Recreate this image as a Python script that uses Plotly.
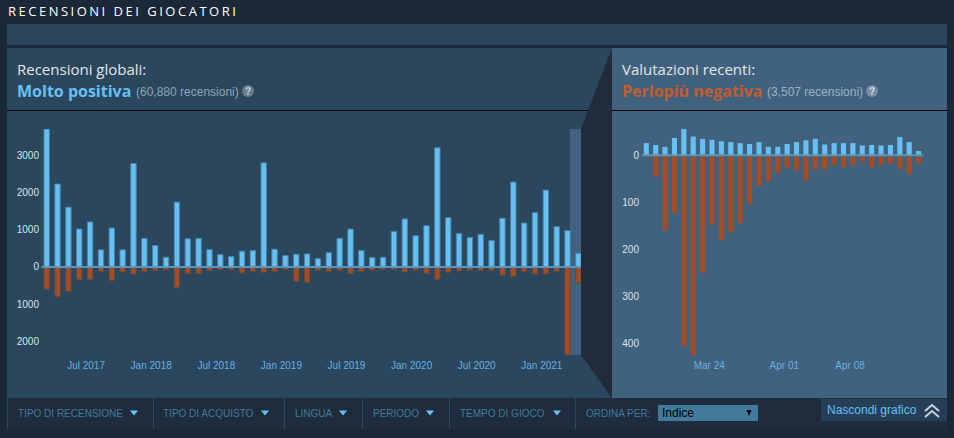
import plotly.graph_objects as go

# monthly totals, Mar 2017 - Apr 2021
global_up = [3700, 2225, 1604, 1018, 1207, 460, 1045, 460, 2775, 766, 577, 261, 1739, 757, 766, 468, 333,
             279, 423, 441, 2793, 477, 306, 342, 351, 225, 387, 766, 1018, 441, 252, 261, 955, 1288, 838,
             1108, 3198, 1324, 900, 793, 874, 712, 1306, 2279, 1180, 1459, 2063, 1081, 973, 369]
global_down = [595, 800, 658, 342, 333, 126, 360, 135, 189, 117, 90, 72, 559, 180, 180, 99, 72,
               72, 162, 126, 144, 117, 63, 387, 414, 90, 117, 90, 180, 117, 81, 63, 63, 135, 81,
               171, 333, 144, 108, 90, 90, 90, 225, 252, 126, 189, 189, 117, 2360, 432]
global_ticks = [4, 10, 16, 22, 28, 34, 40, 46]
global_ticktext = ['Jul 2017', 'Jan 2018', 'Jul 2018', 'Jan 2019', 'Jul 2019', 'Jan 2020', 'Jul 2020', 'Jan 2021']
global_yticks = [3000, 2000, 1000, 0, -1000, -2000]

# daily totals, Mar 17 - Apr 15
recent_up = [26, 22, 18, 37, 56, 40, 35, 33, 30, 28, 26, 24, 28, 18, 18,
             24, 28, 32, 35, 23, 26, 26, 26, 21, 22, 21, 22, 39, 28, 9]
recent_down = [3, 45, 160, 123, 406, 425, 250, 148, 180, 164, 144, 104, 66, 55, 38,
               26, 32, 54, 30, 30, 21, 26, 21, 13, 26, 21, 18, 29, 41, 18]
recent_ticks = [7, 15, 22]
recent_ticktext = ['Mar 24', 'Apr 01', 'Apr 08']
recent_yticks = [0, -100, -200, -300, -400]

W, H = 954, 438
BLUE = '#66c0f4'
RED = '#a34c25'


def px(x):
    return x / W


def py(y):
    return 1 - y / H


def rect(x0, y0, x1, y1, color):
    return dict(type='rect', xref='paper', yref='paper', x0=px(x0), x1=px(x1), y0=py(y0), y1=py(y1),
                fillcolor=color, line_width=0, layer='below')


def poly(points, color, line=None):
    path = 'M ' + ' L '.join('{} {}'.format(px(a), py(b)) for a, b in points)
    if line:
        return dict(type='path', xref='paper', yref='paper', path=path, line=dict(color=color, width=line), layer='above')
    return dict(type='path', xref='paper', yref='paper', path=path + ' Z', fillcolor=color, line_width=0, layer='above')


def label(x, y, text, size=10, color='#417a9b', font='Liberation Sans', bold=False, anchor='left'):
    return dict(xref='paper', yref='paper', x=px(x), y=py(y), text='<b>' + text + '</b>' if bold else text,
                showarrow=False, xanchor=anchor, yanchor='middle', borderpad=0, borderwidth=0,
                font=dict(size=size, color=color, family=font))


def tri(cx, cy=413):
    return poly([(cx - 4, cy - 2.5), (cx + 4, cy - 2.5), (cx, cy + 2.5)], BLUE)


fig = go.Figure()
fig.add_trace(go.Bar(x=list(range(len(global_up))), y=global_up, width=0.5, xaxis='x', yaxis='y',
                     marker=dict(color=BLUE, line=dict(color='#4582a8', width=1))))
fig.add_trace(go.Bar(x=list(range(len(global_down))), y=[-v for v in global_down], width=0.5, xaxis='x', yaxis='y',
                     marker=dict(color=RED, line=dict(color='#5e4a42', width=1))))
fig.add_trace(go.Bar(x=list(range(len(recent_up))), y=recent_up, width=0.54, xaxis='x2', yaxis='y2',
                     marker=dict(color=BLUE, line_width=0)))
fig.add_trace(go.Bar(x=list(range(len(recent_down))), y=[-v for v in recent_down], width=0.54, xaxis='x2', yaxis='y2',
                     marker=dict(color=RED, line_width=0)))

shapes = [
    rect(7, 24, 947, 45, '#2a475e'),
    rect(7, 48, 612, 398, '#2a475e'),
    rect(612, 48, 947, 398, '#41627e'),
    rect(7, 398, 947, 429, '#1e2c3e'),
    rect(7, 110, 612, 111, '#000000'),
    rect(612, 110, 947, 111, '#000000'),
    rect(570, 129, 581, 355, '#41627e'),
    poly([(612, 48), (581, 129), (581, 355), (612, 398)], '#202c3c'),
    dict(type='line', xref='x', yref='y', x0=-0.5, x1=len(global_up) - 0.5, y0=0, y1=0,
         line=dict(color='#5797bf', width=2), layer='above'),
    dict(type='line', xref='x2', yref='y2', x0=-0.5, x1=len(recent_up) - 0.5, y0=0, y1=0,
         line=dict(color='#5797bf', width=2), layer='above'),
    rect(658, 405, 758, 421, '#417a9b'),
    rect(821, 399, 947, 421, '#273f56'),
    poly([(746.5, 410), (751.5, 410), (749, 416)], '#000000'),
    poly([(925, 411), (932, 405), (939, 411)], '#c6d4df', line=2),
    poly([(925, 417), (932, 411), (939, 417)], '#c6d4df', line=2),
    dict(type='circle', xref='paper', yref='paper', x0=px(242), x1=px(254), y0=py(97), y1=py(85),
         fillcolor='#677d90', line_width=0, layer='above'),
    dict(type='circle', xref='paper', yref='paper', x0=px(866), x1=px(878), y0=py(97), y1=py(85),
         fillcolor='#768da2', line_width=0, layer='above'),
]
for sep in [7, 153, 284, 362, 449, 575]:
    shapes.append(rect(sep, 398, sep + 1, 429, '#2a475e'))
for cx in [134, 265, 343, 430, 557]:
    shapes.append(tri(cx))

annotations = [
    label(123, 11, 'RECENSIONI DEI GIOCATORI', 13, '#ffffff', 'Open Sans', anchor='center'),
    label(17, 69, 'Recensioni globali:', 15, '#e5e5e5', 'Open Sans'),
    label(17, 91, 'Molto positiva', 16, BLUE, 'Open Sans', True),
    label(136, 92, '(60,880 recensioni)', 12, '#8ba6b6'),
    label(245, 91, '?', 10, '#c6d4df', bold=True),
    label(622, 69, 'Valutazioni recenti:', 15, '#e5e5e5', 'Open Sans'),
    label(622, 91, 'Perlopiù negativa', 16, '#c35c2c', 'Open Sans', True),
    label(767, 92, '(3,507 recensioni)', 12, '#9cb3c4'),
    label(869, 91, '?', 10, '#d5dfe8', bold=True),
    label(17.5, 413, 'TIPO DI RECENSIONE'),
    label(163, 413, 'TIPO DI ACQUISTO'),
    label(295, 413, 'LINGUA'),
    label(373, 413, 'PERIODO'),
    label(460, 413, 'TEMPO DI GIOCO'),
    label(586, 413, 'ORDINA PER:'),
    label(662, 413, 'Indice', 12, '#000000'),
    label(827, 410, 'Nascondi grafico', 12, BLUE),
]

tick_font = dict(size=10, color='#dce3e8', family='Liberation Sans')
x_font = dict(size=10, color='#66b0e0', family='Liberation Sans')

fig.update_layout(
    width=W, height=H, autosize=False, margin=dict(l=0, r=0, t=0, b=0),
    paper_bgcolor='#1b2838', plot_bgcolor='rgba(0,0,0,0)',
    barmode='relative', showlegend=False, shapes=shapes, annotations=annotations,
    xaxis=dict(domain=[px(40), px(581)], range=[-0.617, 49.24], tickvals=[t - 0.37 for t in global_ticks],
               ticktext=global_ticktext, tickfont=x_font, showgrid=False, zeroline=False, ticks='', ticklabelstandoff=3),
    yaxis=dict(domain=[py(355), py(129)], range=[-2360, 3700], tickvals=global_yticks,
               ticktext=[str(abs(v)) for v in global_yticks], tickfont=tick_font,
               showgrid=False, zeroline=False, ticks=''),
    xaxis2=dict(domain=[px(640), px(925)], range=[-0.67, 29.68], anchor='y2', tickvals=[t - 0.3 for t in recent_ticks],
                ticktext=recent_ticktext, tickfont=x_font, showgrid=False, zeroline=False, ticks='', ticklabelstandoff=3),
    yaxis2=dict(domain=[py(355), py(129)], range=[-425, 56], anchor='x2', tickvals=recent_yticks,
                ticktext=[str(abs(v)) for v in recent_yticks], tickfont=tick_font,
                showgrid=False, zeroline=False, ticks=''),
)

fix_page = """
document.body.style.margin = '0';
document.body.style.overflow = 'hidden';
document.querySelector('.annotation[data-index="0"] text').style.letterSpacing = '2.5px';
"""
fig.write_html("out.html", post_script=fix_page, config={'displayModeBar': False})
